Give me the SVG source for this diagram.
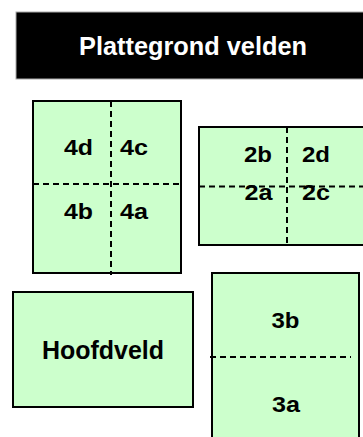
<svg xmlns="http://www.w3.org/2000/svg" width="363" height="437" viewBox="0 0 363 437">
<style>
.box{fill:#ccffcc;stroke:#000;stroke-width:2}
.dash{stroke:#000;stroke-width:2;stroke-dasharray:6 4;fill:none}
.lbl{font-family:"Liberation Sans",Arial,sans-serif;font-weight:bold;font-size:22px;fill:#000;text-anchor:middle}
.big{font-family:"Liberation Sans",Arial,sans-serif;font-weight:bold;font-size:25px;text-anchor:middle}
</style>
<rect width="363" height="437" fill="#fff"/>
<g id="title">
<rect x="16" y="12" width="360" height="67" fill="#000" stroke="#aaa" stroke-width="1"/>
<text class="big" x="193" y="55" fill="#fff" textLength="228" lengthAdjust="spacingAndGlyphs">Plattegrond velden</text>
</g>
<g id="veld4">
<rect class="box" x="33" y="101" width="148" height="172"/>
<line class="dash" x1="111" y1="101" x2="111" y2="275"/>
<line class="dash" x1="33" y1="184" x2="181" y2="184"/>
<text class="lbl" x="78.5" y="155" textLength="29" lengthAdjust="spacingAndGlyphs">4d</text>
<text class="lbl" x="134" y="155" textLength="28" lengthAdjust="spacingAndGlyphs">4c</text>
<text class="lbl" x="78.5" y="219" textLength="29" lengthAdjust="spacingAndGlyphs">4b</text>
<text class="lbl" x="134" y="219" textLength="28" lengthAdjust="spacingAndGlyphs">4a</text>
</g>
<g id="veld2">
<rect class="box" x="199" y="127" width="180" height="118"/>
<line class="dash" x1="287" y1="127" x2="287" y2="245"/>
<line class="dash" x1="199" y1="186.5" x2="363" y2="186.5"/>
<text class="lbl" x="258" y="162" textLength="28" lengthAdjust="spacingAndGlyphs">2b</text>
<text class="lbl" x="316" y="162" textLength="28" lengthAdjust="spacingAndGlyphs">2d</text>
<text class="lbl" x="258.5" y="200" textLength="28" lengthAdjust="spacingAndGlyphs">2a</text>
<text class="lbl" x="316" y="200" textLength="28" lengthAdjust="spacingAndGlyphs">2c</text>
</g>
<g id="hoofdveld">
<rect class="box" x="13" y="292" width="180" height="115"/>
<text class="big" x="103" y="359" fill="#000" textLength="122" lengthAdjust="spacingAndGlyphs">Hoofdveld</text>
</g>
<g id="veld3">
<rect class="box" x="212" y="273" width="147" height="180"/>
<line class="dash" x1="210" y1="357" x2="351" y2="357"/>
<text class="lbl" x="285.5" y="328" textLength="28" lengthAdjust="spacingAndGlyphs">3b</text>
<text class="lbl" x="286" y="412" textLength="28" lengthAdjust="spacingAndGlyphs">3a</text>
</g>
<g id="connectors"/>
</svg>
